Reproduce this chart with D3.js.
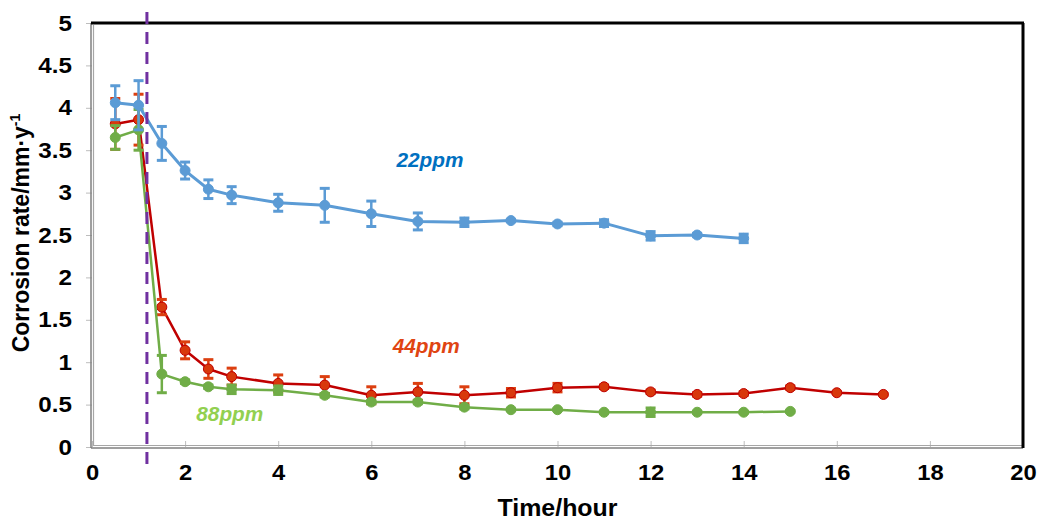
<!DOCTYPE html>
<html>
<head>
<meta charset="utf-8">
<script src="https://cdn.jsdelivr.net/npm/d3@7"></script>
<style>
  body { margin: 0; background: #fff; }
  svg { display: block; }
  text { font-family: "Liberation Sans", Arial, sans-serif; font-weight: bold; }
</style>
</head>
<body>
<svg id="chart" width="1040" height="523"></svg>
<script>
// Corrosion rate (mm/y) vs immersion time at three inhibitor concentrations
const hours22 = [0.5, 1, 1.5, 2, 2.5, 3, 4, 5, 6, 7, 8, 9, 10, 11, 12, 13, 14];
const rate22  = [4.06, 4.03, 3.58, 3.26, 3.04, 2.97, 2.88, 2.85, 2.75, 2.66, 2.65, 2.67, 2.63, 2.64, 2.49, 2.50, 2.46];
const err22   = [0.2, 0.29, 0.2, 0.1, 0.11, 0.1, 0.1, 0.2, 0.15, 0.1, 0.05, 0.01, 0.02, 0.04, 0.05, 0.02, 0.05];

const hours44 = [0.5, 1, 1.5, 2, 2.5, 3, 4, 5, 6, 7, 8, 9, 10, 11, 12, 13, 14, 15, 16, 17];
const rate44  = [3.81, 3.86, 1.65, 1.14, 0.92, 0.83, 0.75, 0.73, 0.61, 0.65, 0.61, 0.64, 0.70, 0.71, 0.65, 0.62, 0.63, 0.70, 0.64, 0.62];
const err44   = [0.3, 0.3, 0.09, 0.1, 0.11, 0.1, 0.1, 0.1, 0.1, 0.1, 0.1, 0.05, 0.05, 0.02, 0.02, 0.02, 0.02, 0.02, 0.01, 0.01];

const hours88 = [0.5, 1, 1.5, 2, 2.5, 3, 4, 5, 6, 7, 8, 9, 10, 11, 12, 13, 14, 15];
const rate88  = [3.65, 3.74, 0.86, 0.77, 0.71, 0.68, 0.67, 0.61, 0.53, 0.53, 0.47, 0.44, 0.44, 0.41, 0.41, 0.41, 0.41, 0.42];
const err88   = [0.14, 0.24, 0.22, 0.02, 0.02, 0.05, 0.05, 0.02, 0.02, 0.02, 0.02, 0.01, 0.01, 0.01, 0.05, 0.01, 0.01, 0.01];

const xTicks = [0, 2, 4, 6, 8, 10, 12, 14, 16, 18, 20];
const yTicks = [0, 0.5, 1, 1.5, 2, 2.5, 3, 3.5, 4, 4.5, 5];
const markerLine = 1.18;   // time of the vertical reference line

const seriesLabels = ["22ppm", "44ppm", "88ppm"];

const svg = d3.select("#chart");
const plot = { left: 92, right: 1023, top: 23, bottom: 447 };

const x = d3.scaleLinear().domain([0, 20]).range([plot.left, plot.right]);
const y = d3.scaleLinear().domain([0, 5]).range([plot.bottom, plot.top]);

// Widen a text element's glyphs by a factor
function widen(sel, factor) {
  sel.each(function () {
    const w = this.getComputedTextLength();
    d3.select(this).attr("textLength", w * factor).attr("lengthAdjust", "spacingAndGlyphs");
  });
}

// Axes: outward y ticks, inward x ticks, grey
const yAxis = svg.append("g")
  .attr("transform", `translate(${plot.left},0)`)
  .call(d3.axisLeft(y).tickValues(yTicks).tickSize(6).tickFormat(d => d));
yAxis.select(".domain").remove();
yAxis.selectAll(".tick line").attr("stroke", "#bdbdbd").attr("stroke-width", 1);
yAxis.selectAll(".tick text")
  .attr("x", -20).attr("fill", "#000").attr("font-size", 22)
  .style("font-family", "'Liberation Sans', Arial, sans-serif").style("font-weight", "bold")
  .call(widen, 1.1);

const xAxis = svg.append("g")
  .attr("transform", `translate(0,${plot.bottom})`)
  .call(d3.axisBottom(x).tickValues(xTicks).tickSize(-6).tickFormat(d => d));
xAxis.select(".domain").remove();
xAxis.selectAll(".tick line").attr("stroke", "#bdbdbd").attr("stroke-width", 1);
xAxis.selectAll(".tick text")
  .attr("y", 17).attr("fill", "#000").attr("font-size", 22)
  .style("font-family", "'Liberation Sans', Arial, sans-serif").style("font-weight", "bold")
  .call(widen, 1.08);

// Plot frame: grey double edge on left and bottom, black on top and right
const frame = svg.append("g");
frame.append("line").attr("x1", plot.left - 1).attr("x2", plot.left - 1)
  .attr("y1", plot.top).attr("y2", plot.bottom + 1).attr("stroke", "#7f7f7f").attr("stroke-width", 1.5);
frame.append("line").attr("x1", plot.left + 1.5).attr("x2", plot.left + 1.5)
  .attr("y1", plot.top + 2).attr("y2", plot.bottom - 1).attr("stroke", "#a6a6a6").attr("stroke-width", 1.2);
frame.append("line").attr("x1", plot.left - 1).attr("x2", plot.right)
  .attr("y1", plot.bottom + 1).attr("y2", plot.bottom + 1).attr("stroke", "#7f7f7f").attr("stroke-width", 1.5);
frame.append("line").attr("x1", plot.left + 1.5).attr("x2", plot.right)
  .attr("y1", plot.bottom - 1.5).attr("y2", plot.bottom - 1.5).attr("stroke", "#a6a6a6").attr("stroke-width", 1.2);
frame.append("line").attr("x1", plot.left - 1).attr("x2", plot.right + 1)
  .attr("y1", plot.top).attr("y2", plot.top).attr("stroke", "#000").attr("stroke-width", 3);
frame.append("line").attr("x1", plot.right).attr("x2", plot.right)
  .attr("y1", plot.top).attr("y2", plot.bottom + 1).attr("stroke", "#000").attr("stroke-width", 3);

// Series
const series = [
  { hours: hours44, rate: rate44, err: err44, line: "#c00000", fill: "#d8380c", stroke: "#c00000", bar: "#dc3f10", width: 2.5 },
  { hours: hours88, rate: rate88, err: err88, line: "#70ad47", fill: "#70ad47", stroke: "#70ad47", bar: "#70ad47", width: 2.5 },
  { hours: hours22, rate: rate22, err: err22, line: "#5b9bd5", fill: "#5b9bd5", stroke: "#5b9bd5", bar: "#5b9bd5", width: 3 }
];

const lineGen = d3.line().x(d => x(d.t)).y(d => y(d.v));

series.forEach(s => {
  const pts = s.hours.map((t, i) => ({ t, v: s.rate[i], e: s.err[i] }));
  const g = svg.append("g");
  g.append("path").datum(pts).attr("d", lineGen)
    .attr("fill", "none").attr("stroke", s.line).attr("stroke-width", s.width)
    .attr("stroke-linejoin", "round");
  const bars = g.selectAll(".eb").data(pts).enter().append("g");
  bars.append("line")
    .attr("x1", d => x(d.t)).attr("x2", d => x(d.t))
    .attr("y1", d => y(d.v + d.e)).attr("y2", d => y(d.v - d.e))
    .attr("stroke", s.bar).attr("stroke-width", 2.5);
  [1, -1].forEach(sign => {
    bars.append("line")
      .attr("x1", d => x(d.t) - 5).attr("x2", d => x(d.t) + 5)
      .attr("y1", d => y(d.v + sign * d.e)).attr("y2", d => y(d.v + sign * d.e))
      .attr("stroke", s.bar).attr("stroke-width", 3);
  });
  g.selectAll(".pt").data(pts).enter().append("circle")
    .attr("cx", d => x(d.t)).attr("cy", d => y(d.v)).attr("r", 5)
    .attr("fill", s.fill).attr("stroke", s.stroke).attr("stroke-width", 1);
});

// Vertical dashed reference line
svg.append("line")
  .attr("x1", x(markerLine)).attr("x2", x(markerLine))
  .attr("y1", 12).attr("y2", 470)
  .attr("stroke", "#7030a0").attr("stroke-width", 3)
  .attr("stroke-dasharray", "12,8");

// Series labels
const labelPos = [
  { t: 7.26, v: 3.30, color: "#0070c0" },
  { t: 7.18, v: 1.11, color: "#e04412" },
  { t: 2.96, v: 0.31, color: "#92d050" }
];
labelPos.forEach((p, i) => {
  svg.append("text")
    .attr("x", x(p.t)).attr("y", y(p.v))
    .attr("text-anchor", "middle")
    .attr("font-size", 20).attr("font-style", "italic")
    .attr("fill", p.color)
    .attr("textLength", 67).attr("lengthAdjust", "spacingAndGlyphs")
    .text(seriesLabels[i]);
});

// Axis titles
svg.append("text")
  .attr("x", (plot.left + plot.right) / 2).attr("y", 516)
  .attr("text-anchor", "middle").attr("font-size", 23)
  .attr("textLength", 120).attr("lengthAdjust", "spacingAndGlyphs")
  .text("Time/hour");

const yTitle = svg.append("text")
  .attr("transform", "translate(29,233) rotate(-90)")
  .attr("text-anchor", "middle").attr("font-size", 23);
yTitle.append("tspan").text("Corrosion rate/mm·y");
yTitle.append("tspan").attr("font-size", 14).attr("dy", -9).text("-1");
</script>
</body>
</html>
